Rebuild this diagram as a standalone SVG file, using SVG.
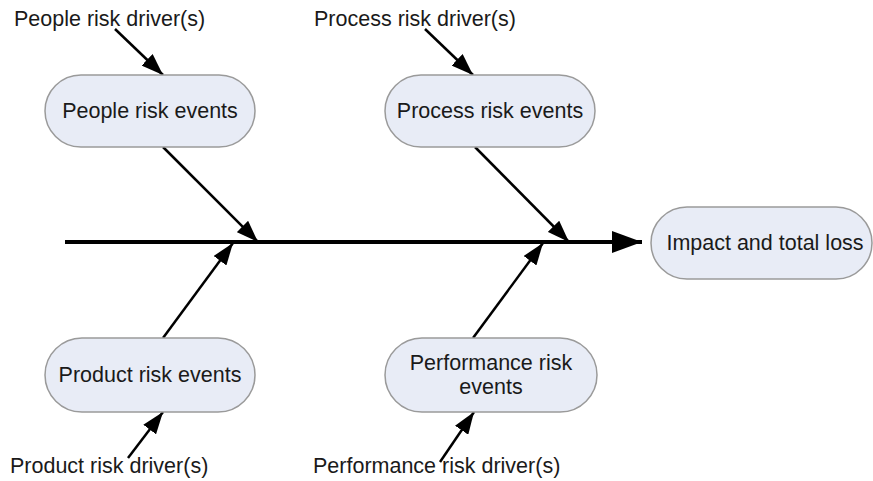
<svg xmlns="http://www.w3.org/2000/svg" width="873" height="481" viewBox="0 0 873 481">
  <style>
    .box { fill: #e8ecf6; stroke: #9a9a9a; stroke-width: 1.5; }
    .lbl { font-family: "Liberation Sans", Arial, sans-serif; font-size: 21.5px; fill: #1a1a1a; }
    .mid { text-anchor: middle; }
    .edge { stroke: #000; stroke-width: 2.5; fill: none; marker-end: url(#head); }
    .spine { stroke: #000; stroke-width: 4; fill: none; marker-end: url(#bighead); }
  </style>
  <defs>
    <marker id="head" markerUnits="userSpaceOnUse" viewBox="0 0 22 16" refX="22" refY="8" markerWidth="22" markerHeight="16" orient="auto">
      <path d="M0,0 L22,8 L0,16 Z" fill="#000"/>
    </marker>
    <marker id="bighead" markerUnits="userSpaceOnUse" viewBox="0 0 30 22" refX="30" refY="11" markerWidth="30" markerHeight="22" orient="auto">
      <path d="M0,0 L30,11 L0,22 Z" fill="#000"/>
    </marker>
  </defs>

  <!-- fishbone spine and branch arrows -->
  <g id="connectors">
    <line class="spine" x1="65" y1="242" x2="642" y2="242"/>
    <line class="edge" x1="115" y1="29" x2="163" y2="75"/>
    <line class="edge" x1="425" y1="29" x2="473" y2="75"/>
    <line class="edge" x1="163" y1="147" x2="258" y2="242"/>
    <line class="edge" x1="475" y1="147" x2="569" y2="242"/>
    <line class="edge" x1="163" y1="338" x2="233" y2="243"/>
    <line class="edge" x1="473" y1="338" x2="543" y2="243"/>
    <line class="edge" x1="128" y1="458" x2="163" y2="412"/>
    <line class="edge" x1="440" y1="462" x2="474" y2="412"/>
  </g>

  <!-- nodes -->
  <g id="people-driver">
    <text class="lbl" x="14" y="26">People risk driver(s)</text>
  </g>
  <g id="process-driver">
    <text class="lbl" x="314" y="26">Process risk driver(s)</text>
  </g>
  <g id="people-events">
    <rect class="box" x="45" y="75" width="210" height="72" rx="36"/>
    <text class="lbl mid" x="150" y="118">People risk events</text>
  </g>
  <g id="process-events">
    <rect class="box" x="385" y="75" width="210" height="72" rx="36"/>
    <text class="lbl mid" x="490" y="118">Process risk events</text>
  </g>
  <g id="impact">
    <rect class="box" x="651" y="207" width="221" height="72" rx="36"/>
    <text class="lbl mid" x="765" y="250">Impact and total loss</text>
  </g>
  <g id="product-events">
    <rect class="box" x="45" y="338" width="210" height="74" rx="37"/>
    <text class="lbl mid" x="150" y="382">Product risk events</text>
  </g>
  <g id="performance-events">
    <rect class="box" x="385" y="338" width="212" height="74" rx="37"/>
    <text class="lbl mid" x="491" y="370">Performance risk</text>
    <text class="lbl mid" x="491" y="394">events</text>
  </g>
  <g id="product-driver">
    <text class="lbl" x="10" y="473">Product risk driver(s)</text>
  </g>
  <g id="performance-driver">
    <text class="lbl" x="313" y="473">Performance risk driver(s)</text>
  </g>
</svg>
